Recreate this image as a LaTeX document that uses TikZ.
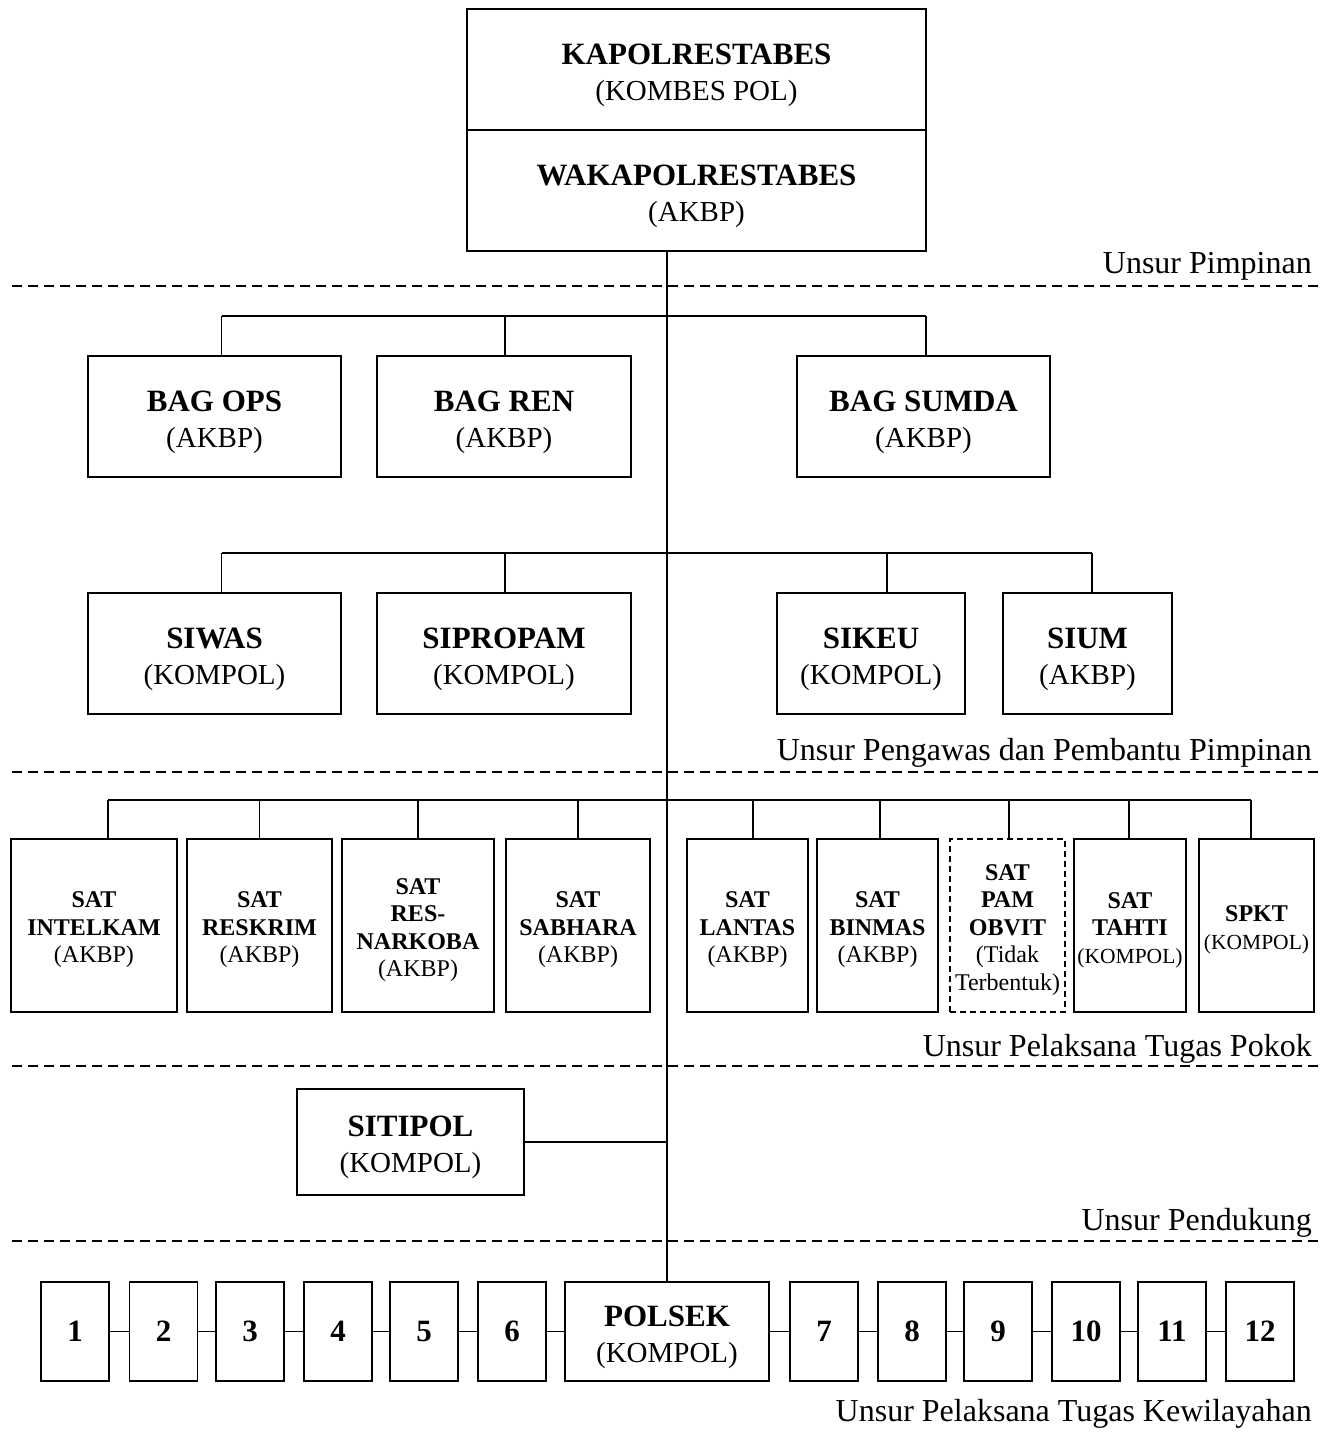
\documentclass[tikz,border=0pt]{standalone}
\usepackage{fontspec}
\setmainfont{Liberation Serif}
\newcommand\mytitle[1]{{\fontsize{31}{36}\selectfont\bfseries\rule{0pt}{32pt}#1}}
\newcommand\mysub[1]{{\fontsize{29}{36}\selectfont #1}}
\newcommand\smallsub[1]{{\fontsize{21.5}{27.5}\selectfont #1}}
\newcommand\satfirst[1]{\rule{0pt}{25pt}\textbf{#1}}
\begin{document}
\begin{tikzpicture}[x=1pt,y=-1pt,
  box/.style={draw, line width=1.8pt, inner sep=0pt, align=center, font=\fontsize{30}{36}\selectfont},
  satbox/.style={draw, line width=1.8pt, inner sep=0pt, align=center, font=\fontsize{24}{27.5}\selectfont, minimum height=173pt},
  numbox/.style={draw, line width=1.8pt, inner sep=0pt, minimum width=68pt, minimum height=99pt, font=\fontsize{31}{36}\selectfont\bfseries},
  conn/.style={line width=1.6pt},
  bar/.style={line width=2.4pt},
  sepline/.style={line width=1.8pt, dash pattern=on 10pt off 6pt},
  lbl/.style={anchor=east, inner sep=0pt, font=\fontsize{32}{36}\selectfont}]
\useasboundingbox (0,0) rectangle (1336,1432);

% --- leadership
\node[box, minimum width=459pt, minimum height=121pt] (kapol) at (696.5,69.5) {\mytitle{KAPOLRESTABES}\\\mysub{(KOMBES POL)}};
\node[box, minimum width=459pt, minimum height=121pt] (waka) at (696.5,190.5) {\mytitle{WAKAPOLRESTABES}\\\mysub{(AKBP)}};

% --- BAG row
\node[box, minimum width=253pt, minimum height=121pt] (bagops) at (214.5,416.5) {\mytitle{BAG OPS}\\\mysub{(AKBP)}};
\node[box, minimum width=254pt, minimum height=121pt] (bagren) at (504,416.5) {\mytitle{BAG REN}\\\mysub{(AKBP)}};
\node[box, minimum width=253pt, minimum height=121pt] (bagsumda) at (923.5,416.5) {\mytitle{BAG SUMDA}\\\mysub{(AKBP)}};

% --- SI row
\node[box, minimum width=253pt, minimum height=121pt] (siwas) at (214.5,653.5) {\mytitle{SIWAS}\\\mysub{(KOMPOL)}};
\node[box, minimum width=254pt, minimum height=121pt] (sipropam) at (504,653.5) {\mytitle{SIPROPAM}\\\mysub{(KOMPOL)}};
\node[box, minimum width=188pt, minimum height=121pt] (sikeu) at (871,653.5) {\mytitle{SIKEU}\\\mysub{(KOMPOL)}};
\node[box, minimum width=169pt, minimum height=121pt] (sium) at (1087.5,653.5) {\mytitle{SIUM}\\\mysub{(AKBP)}};

% --- SAT row
\node[satbox, minimum width=166pt] (intelkam) at (94,925.5) {\satfirst{SAT}\\\textbf{INTELKAM}\\(AKBP)};
\node[satbox, minimum width=145pt] (reskrim) at (259.5,925.5) {\satfirst{SAT}\\\textbf{RESKRIM}\\(AKBP)};
\node[satbox, minimum width=152pt] (narkoba) at (418,925.5) {\satfirst{SAT}\\\textbf{RES-}\\\textbf{NARKOBA}\\(AKBP)};
\node[satbox, minimum width=144pt] (sabhara) at (578,925.5) {\satfirst{SAT}\\\textbf{SABHARA}\\(AKBP)};
\node[satbox, minimum width=121pt] (lantas) at (747.5,925.5) {\satfirst{SAT}\\\textbf{LANTAS}\\(AKBP)};
\node[satbox, minimum width=121pt] (binmas) at (877.5,925.5) {\satfirst{SAT}\\\textbf{BINMAS}\\(AKBP)};
\node[satbox, minimum width=115pt, dash pattern=on 6pt off 4pt] (pam) at (1007.5,925.5) {\satfirst{SAT}\\\textbf{PAM}\\\textbf{OBVIT}\\(Tidak\\Terbentuk)};
\node[satbox, minimum width=112pt] (tahti) at (1130,925.5) {\satfirst{SAT}\\\textbf{TAHTI}\\\smallsub{(KOMPOL)}};
\node[satbox, minimum width=115pt] (spkt) at (1256.5,925.5) {\satfirst{SPKT}\\\smallsub{(KOMPOL)}};

% --- support
\node[box, minimum width=227pt, minimum height=106pt] (sitipol) at (410.5,1142) {\mytitle{SITIPOL}\\\mysub{(KOMPOL)}};

% --- bottom row
\node[box, minimum width=204pt, minimum height=99pt] (polsek) at (667,1331.5) {\mytitle{POLSEK}\\\mysub{(KOMPOL)}};
\node[numbox] (n1) at (75,1331.5) {1};
\node[numbox] (n2) at (163.5,1331.5) {2};
\node[numbox] (n3) at (250,1331.5) {3};
\node[numbox] (n4) at (338,1331.5) {4};
\node[numbox] (n5) at (424,1331.5) {5};
\node[numbox] (n6) at (512,1331.5) {6};
\node[numbox] (n7) at (824,1331.5) {7};
\node[numbox] (n8) at (912,1331.5) {8};
\node[numbox] (n9) at (998,1331.5) {9};
\node[numbox] (n10) at (1086,1331.5) {10};
\node[numbox] (n11) at (1172,1331.5) {11};
\node[numbox] (n12) at (1260,1331.5) {12};

% --- separators
\draw[sepline] (12,286) -- (1322,286);
\draw[sepline] (12,772) -- (1322,772);
\draw[sepline] (12,1066) -- (1322,1066);
\draw[sepline] (12,1241) -- (1322,1241);

% --- labels
\node[lbl] (l1) at (1312,266.5) {Unsur Pimpinan};
\node[lbl] (l2) at (1312,752.5) {Unsur Pengawas dan Pembantu Pimpinan};
\node[lbl] (l3) at (1312,1048.5) {Unsur Pelaksana Tugas Pokok};
\node[lbl] (l4) at (1312,1222.5) {Unsur Pendukung};
\node[lbl] (l5) at (1312,1413.5) {Unsur Pelaksana Tugas Kewilayahan};

% --- trunk
\draw[conn] (waka.south -| polsek.north) -- (polsek.north);

% --- BAG connectors
\draw[bar] ([shift={(7,-39)}]bagops.north) -- ([shift={(2.5,-39)}]bagsumda.north);
\draw[conn] ([xshift=7pt]bagops.north) -- ++(0,-39);
\draw[conn] ([xshift=1pt]bagren.north) -- ++(0,-39);
\draw[conn] ([xshift=2.5pt]bagsumda.north) -- ++(0,-39);

% --- SI connectors
\draw[bar] ([shift={(7,-39)}]siwas.north) -- ([shift={(4.5,-39)}]sium.north);
\draw[conn] ([xshift=7pt]siwas.north) -- ++(0,-39);
\draw[conn] ([xshift=1pt]sipropam.north) -- ++(0,-39);
\draw[conn] ([xshift=16pt]sikeu.north) -- ++(0,-39);
\draw[conn] ([xshift=4.5pt]sium.north) -- ++(0,-39);

% --- SAT connectors
\draw[bar] ([shift={(14,-38)}]intelkam.north) -- ([shift={(-5.5,-38)}]spkt.north);
\draw[conn] ([xshift=14pt]intelkam.north) -- ++(0,-38);
\draw[conn] (reskrim.north) -- ++(0,-38);
\draw[conn] (narkoba.north) -- ++(0,-38);
\draw[conn] (sabhara.north) -- ++(0,-38);
\draw[conn] ([xshift=5.5pt]lantas.north) -- ++(0,-38);
\draw[conn] ([xshift=2.5pt]binmas.north) -- ++(0,-38);
\draw[conn] ([xshift=1.5pt]pam.north) -- ++(0,-38);
\draw[conn] ([xshift=-1pt]tahti.north) -- ++(0,-38);
\draw[conn] ([xshift=-5.5pt]spkt.north) -- ++(0,-38);

% --- SITIPOL connector
\draw[conn] (sitipol.east) -- (sitipol.east -| polsek.north);

% --- bottom chain
\draw[conn] (n1.east) -- (n2.west);
\draw[conn] (n2.east) -- (n3.west);
\draw[conn] (n3.east) -- (n4.west);
\draw[conn] (n4.east) -- (n5.west);
\draw[conn] (n5.east) -- (n6.west);
\draw[conn] (n6.east) -- (polsek.west);
\draw[conn] (polsek.east) -- (n7.west);
\draw[conn] (n7.east) -- (n8.west);
\draw[conn] (n8.east) -- (n9.west);
\draw[conn] (n9.east) -- (n10.west);
\draw[conn] (n10.east) -- (n11.west);
\draw[conn] (n11.east) -- (n12.west);
\end{tikzpicture}
\end{document}
